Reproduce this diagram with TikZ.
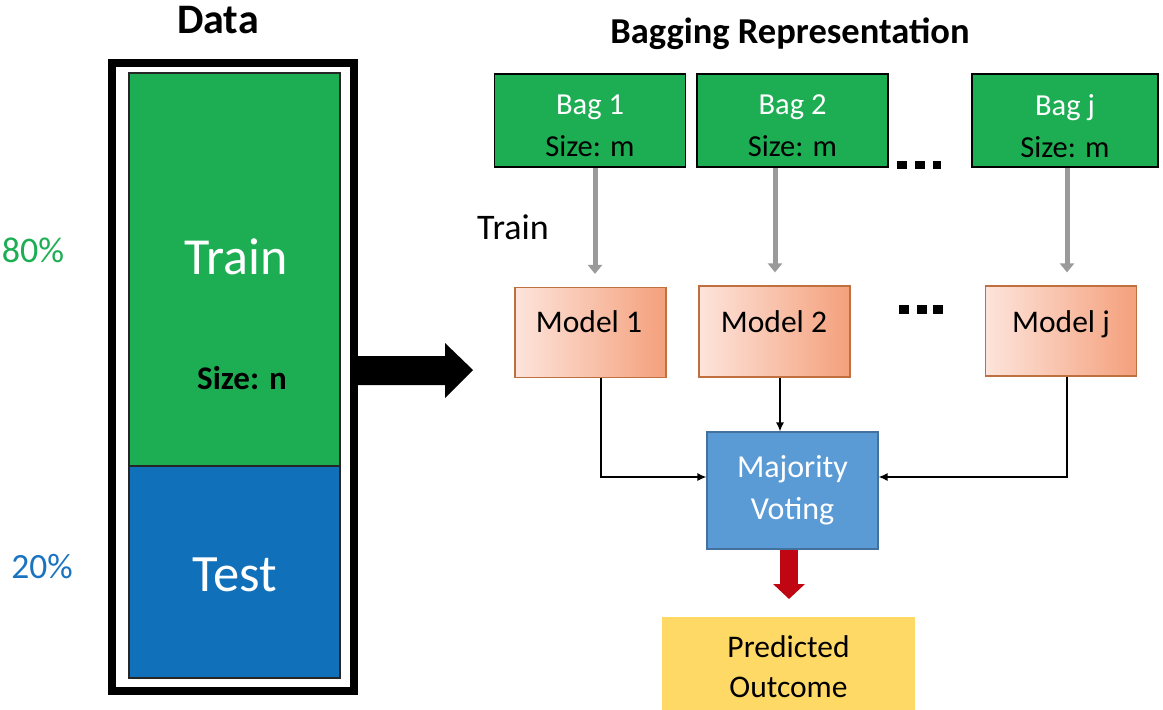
\documentclass[tikz,border=0pt]{standalone}
\usepackage{fontspec}
\setmainfont{Carlito}
\usetikzlibrary{arrows.meta}
\definecolor{bggreen}{HTML}{1DAE54}
\definecolor{tblue}{HTML}{1170BA}
\definecolor{pctblue}{HTML}{1A73C0}
\definecolor{mlight}{HTML}{FDE4DB}
\definecolor{mdark}{HTML}{F4A07C}
\definecolor{mborder}{HTML}{C0703F}
\definecolor{mvblue}{HTML}{5B9BD5}
\definecolor{mvborder}{HTML}{41719C}
\definecolor{pyellow}{HTML}{FFD966}
\definecolor{redarr}{HTML}{C00612}
\definecolor{grayarr}{HTML}{9A9A9A}
\newcommand{\fsz}[2]{\fontsize{#1}{#2}\selectfont}
\tikzset{
  bagbox/.style={draw=black, line width=1.2pt, fill=bggreen, minimum width=191, minimum height=93, inner sep=0},
  bagtext/.style={align=center, inner sep=0, font=\fsz{30.5}{42}},
  modelbox/.style={draw=mborder, line width=1.2pt, left color=mlight, right color=mdark, minimum width=151, minimum height=90, inner sep=0},
  modeltext/.style={inner sep=0, font=\fsz{31.5}{36}},
  grayarrow/.style={draw=grayarr, line width=5pt, -{Triangle[width=14pt,length=9pt]}, shorten >=13pt},
  conn/.style={draw=black, line width=1.3pt, -{Latex[width=8pt,length=9pt]}},
  dotsq/.style={fill=black, draw=none, minimum width=9.5, minimum height=8.5, inner sep=0}
}
\begin{document}
\begin{tikzpicture}[x=1pt,y=-1pt]
\useasboundingbox (0,0) rectangle (1163,710);
% data column
\node[draw, line width=8pt, minimum width=242, minimum height=628, inner sep=0] (frame) at (233,377) {};
\node[draw=black!85, line width=1.2pt, fill=bggreen, minimum width=211, minimum height=393, inner sep=0] (train) at (234.5,269.5) {};
\node[draw=black!85, line width=1.2pt, fill=tblue, minimum width=211, minimum height=212, inner sep=0] (test) at (234.5,572) {};
\node[text=white, font=\fsz{52}{58}] (traintxt) at (236,257) {Train};
\node[font=\bfseries\fsz{33}{38}] (sizen) at (242,378) {Size: n};
\node[text=white, font=\fsz{52.5}{58}] (testtxt) at (235,575) {Test};
\node[font=\bfseries\fsz{42}{48}] (data) at (218,20) {Data};
\node[text=bggreen, font=\fsz{36}{42}] (p80) at (33,250) {80\%};
\node[text=pctblue, font=\fsz{35.5}{42}] (p20) at (42,567) {20\%};
% big arrow
\coordinate (bigtail) at (357,370);
\fill[black] (357,356) -- (445,356) -- (445,343) -- (473,370) -- (445,398) -- (445,385) -- (357,385) -- cycle;
% bagging
\node[font=\bfseries\fsz{36.5}{42}] (title) at (790,34) {Bagging Representation};
\node[bagbox] (bag1) at (590,120.5) {};
\node[bagbox] (bag2) at (792.5,120.5) {};
\node[bagbox, minimum width=186] (bagj) at (1065,120.5) {};
\node[bagtext] (bag1t) at ([yshift=-5.5pt]bag1.center) {\textcolor{white}{Bag 1}\\Size: m};
\node[bagtext] (bag2t) at ([yshift=-5.5pt]bag2.center) {\textcolor{white}{Bag 2}\\Size: m};
\node[bagtext] (bagjt) at ([yshift=-5.5pt]bagj.center) {\textcolor{white}{Bag j}\\Size: m};
\node[dotsq] (d11) at (902,165) {};
\node[dotsq] (d12) at (920,165) {};
\node[dotsq, minimum width=8.5] (d13) at (937,165) {};
\node[dotsq] (d21) at (904,309.5) {};
\node[dotsq] (d22) at (922,309.5) {};
\node[dotsq] (d23) at (938,309.5) {};
\node[font=\fsz{36}{42}] (trainlbl) at (513,227) {Train};
\node[modelbox] (model1) at (590.5,332.5) {};
\node[modelbox, minimum height=91] (model2) at (774.5,331.5) {};
\node[modelbox] (modelj) at (1061,331) {};
\node[modeltext] (model1t) at (589,322) {Model 1};
\node[modeltext] (model2t) at (774,322) {Model 2};
\node[modeltext] (modeljt) at (1061,324) {Model j};
% gray arrows
\coordinate (g1) at (595,0);
\coordinate (g2) at (775,0);
\coordinate (gj) at (1067,0);
\draw[grayarrow] (bag1.south -| g1) -- (model1.north -| g1);
\draw[grayarrow] (bag2.south -| g2) -- (model2.north -| g2);
\draw[grayarrow] (bagj.south -| gj) -- (modelj.north -| gj);
% majority voting
\node[draw=mvborder, line width=1.2pt, fill=mvblue, minimum width=171, minimum height=117, inner sep=0, align=center, text=white, font=\fsz{32}{42}] (mv) at (792.5,490.5) {Majority\\Voting};
\coordinate (j1) at (601,477);
\coordinate (j2) at (780,0);
\coordinate (jj) at (1067,477);
\draw[conn] (model1.south -| j1) |- (mv.west |- j1);
\draw[conn] (model2.south -| j2) -- (mv.north -| j2);
\draw[conn] (modelj.south -| jj) |- (mv.east |- jj);
% predicted
\node[fill=pyellow, minimum width=253, minimum height=100, inner sep=0, align=center, font=\fsz{31.5}{40}] (pred) at (788.5,667) {Predicted\\Outcome};
\coordinate (r1) at (789,0);
\coordinate (rtip) at (789,599);
\draw[redarr, line width=18pt, -{Triangle[width=31pt,length=15pt]}] (mv.south -| r1) -- (rtip);
\end{tikzpicture}
\end{document}
